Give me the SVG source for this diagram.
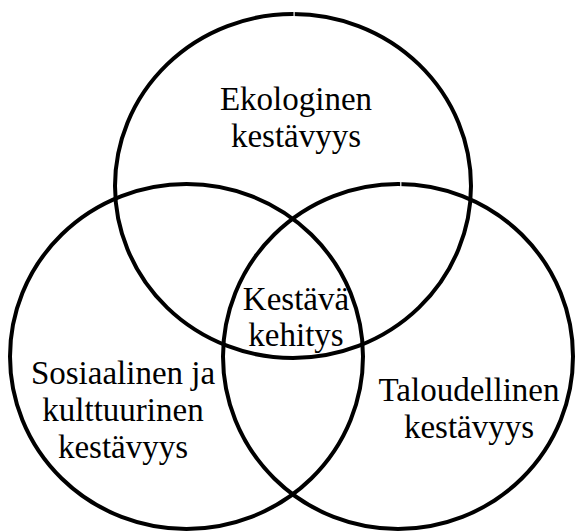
<svg xmlns="http://www.w3.org/2000/svg" width="576" height="532" viewBox="0 0 576 532">
<style>
.c{fill:none;stroke:#000;stroke-width:4}
.t{font-family:"Liberation Serif","Times New Roman",serif;font-size:33px;fill:#000;text-anchor:middle}
.gap{fill:#fff}
</style>
<rect width="576" height="532" fill="#fff"/>
<g id="ekologinen">
<ellipse class="c" cx="293" cy="186" rx="178" ry="172"/>
<rect class="gap" x="293.5" y="9" width="1.2" height="9"/>
<text class="t" x="296" y="110">Ekologinen</text>
<text class="t" x="296" y="147">kestävyys</text>
</g>
<g id="sosiaalinen">
<ellipse class="c" cx="186.5" cy="356.5" rx="176.5" ry="172.5"/>
<text class="t" x="123" y="384">Sosiaalinen ja</text>
<text class="t" x="123" y="421">kulttuurinen</text>
<text class="t" x="123" y="458">kestävyys</text>
</g>
<g id="taloudellinen">
<ellipse class="c" cx="398" cy="356.5" rx="175" ry="172.5"/>
<rect class="gap" x="400.2" y="179" width="1.2" height="9"/>
<text class="t" x="469" y="401">Taloudellinen</text>
<text class="t" x="469" y="438">kestävyys</text>
</g>
<g id="kestava-kehitys">
<text class="t" x="296" y="310">Kestävä</text>
<text class="t" x="296" y="346">kehitys</text>
</g>
<g id="connectors"></g>
</svg>
